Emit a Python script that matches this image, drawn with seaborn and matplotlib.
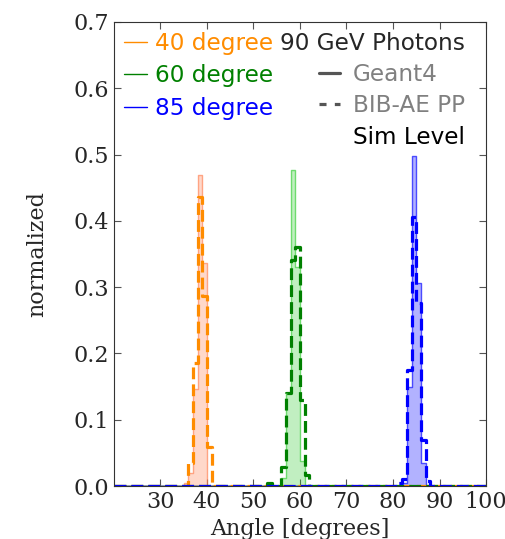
import numpy as np
import seaborn as sns
import matplotlib.pyplot as plt
from matplotlib.colors import to_rgba
from matplotlib.lines import Line2D

# 1 degree bins over the full angle range
bin_edges = list(range(20, 101))

# lower bin edge -> normalized entries
g4_40_bins = [35, 36, 37, 38, 39]
g4_40_vals = [0.004, 0.02, 0.147, 0.469, 0.337]
ae_40_bins = [36, 37, 38, 39, 40]
ae_40_vals = [0.034, 0.185, 0.436, 0.286, 0.059]

g4_60_bins = [56, 57, 58, 59, 60]
g4_60_vals = [0.012, 0.14, 0.476, 0.331, 0.037]
ae_60_bins = [53, 56, 57, 58, 59, 60, 61]
ae_60_vals = [0.004, 0.029, 0.14, 0.341, 0.361, 0.130, 0.017]

g4_85_bins = [82, 83, 84, 85, 86]
g4_85_vals = [0.005, 0.15, 0.498, 0.306, 0.034]
ae_85_bins = [81, 82, 83, 84, 85, 86, 87]
ae_85_vals = [0.004, 0.01, 0.175, 0.406, 0.276, 0.069, 0.008]

angle_labels = ['40 degree', '60 degree', '85 degree']
line_colors = ['darkorange', 'green', 'blue']
fill_colors = ['coral', 'limegreen', 'blue']

x_ticks = [30, 40, 50, 60, 70, 80, 90, 100]
y_ticks = [0.0, 0.1, 0.2, 0.3, 0.4, 0.5, 0.6, 0.7]

sns.set_style('ticks')
plt.rcParams['font.family'] = ['DejaVu Serif']
plt.rcParams['xtick.direction'] = 'in'
plt.rcParams['ytick.direction'] = 'in'
plt.rcParams['xtick.top'] = True
plt.rcParams['ytick.right'] = True

fig = plt.figure(figsize=(5.05, 5.39), dpi=100)
ax = fig.add_axes([0.2257, 0.0983, 0.7367, 0.8609])

g4 = [(g4_40_bins, g4_40_vals), (g4_60_bins, g4_60_vals), (g4_85_bins, g4_85_vals)]
ae = [(ae_40_bins, ae_40_vals), (ae_60_bins, ae_60_vals), (ae_85_bins, ae_85_vals)]

for (gb, gv), (ab, av), lc, fc in zip(g4, ae, line_colors, fill_colors):
    sns.histplot(x=np.array(gb) + 0.5, weights=gv, bins=bin_edges,
                 element='step', fill=True, color=fc, alpha=0.3,
                 linewidth=1.0, ax=ax)
    ax.collections[-1].set_edgecolor(to_rgba(fc, 0.65))
    sns.histplot(x=np.array(ab) + 0.5, weights=av, bins=bin_edges,
                 element='step', fill=False, color=lc,
                 linestyle='--', linewidth=2.3, ax=ax)

ax.set_xlim(20, 100)
ax.set_ylim(0, 0.7)
ax.set_xticks(x_ticks)
ax.set_yticks(y_ticks)
ax.tick_params(labelsize=16, length=5, color='#555555')
for s in ax.spines.values():
    s.set_color('#333333')
ax.set_xlabel('Angle [degrees]', fontsize=16)
ax.set_ylabel('normalized', fontsize=16, labelpad=18)

leg_font = {'family': 'DejaVu Sans', 'size': 16.7}

# angle legend
h1 = [Line2D([], [], color=c, lw=1) for c in line_colors]
leg1 = ax.legend(h1, angle_labels, loc='upper left', frameon=False,
                 handlelength=1.0, handletextpad=0.35, labelspacing=0.42,
                 borderaxespad=0.0, borderpad=0.42, prop=leg_font)
for t, c in zip(leg1.get_texts(), line_colors):
    t.set_color(c)
ax.add_artist(leg1)

# sample legend
h2 = [Line2D([], [], color='#555555', lw=2.3),
      Line2D([], [], color='#555555', lw=2.3, ls=(0, (2.2, 2.6))),
      Line2D([], [], color='none')]
leg2 = ax.legend(h2, ['Geant4', 'BIB-AE PP', 'Sim Level'], loc='upper right',
                 bbox_to_anchor=(0.97, 1.0),
                 frameon=False, title='90 GeV Photons', alignment='right',
                 handlelength=0.9, handletextpad=0.55, labelspacing=0.36,
                 borderaxespad=0.0, borderpad=0.42, prop=leg_font,
                 title_fontproperties=leg_font)
for t, c in zip(leg2.get_texts(), ['gray', 'gray', 'black']):
    t.set_color(c)

fig.savefig('out.png', dpi=100)
